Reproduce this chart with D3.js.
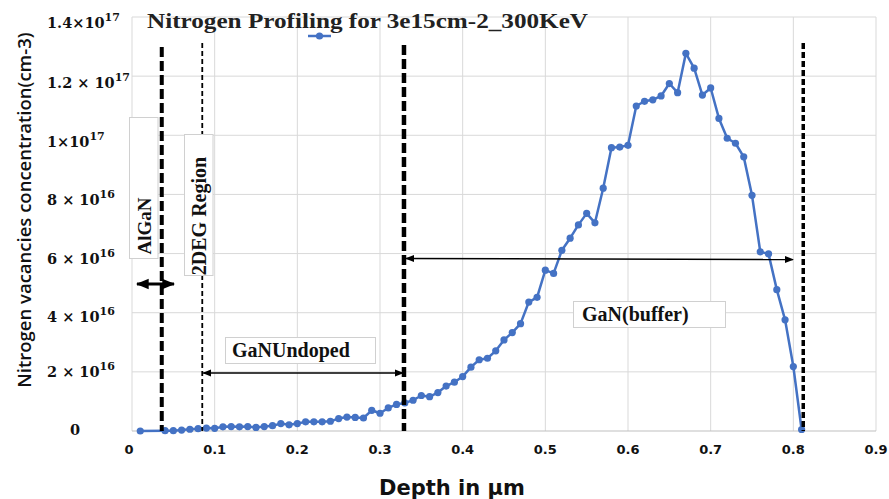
<!DOCTYPE html>
<html>
<head>
<meta charset="utf-8">
<script src="https://cdn.jsdelivr.net/npm/d3@7"></script>
<style>
  html, body { margin: 0; padding: 0; background: #fff; }
  svg { display: block; }
</style>
</head>
<body>
<svg id="chart" width="889" height="499"></svg>
<script>
// ---- data ----
const depth = [0.01, 0.04, 0.05, 0.06, 0.07, 0.08, 0.09, 0.10, 0.11, 0.12, 0.13, 0.14, 0.15, 0.16, 0.17, 0.18, 0.19, 0.20,
  0.21, 0.22, 0.23, 0.24, 0.25, 0.26, 0.27, 0.28, 0.29, 0.30, 0.31, 0.32, 0.33, 0.34, 0.35, 0.36, 0.37, 0.38, 0.39, 0.40,
  0.41, 0.42, 0.43, 0.44, 0.45, 0.46, 0.47, 0.48, 0.49, 0.50, 0.51, 0.52, 0.53, 0.54, 0.55, 0.56, 0.57, 0.58, 0.59, 0.60,
  0.61, 0.62, 0.63, 0.64, 0.65, 0.66, 0.67, 0.68, 0.69, 0.70, 0.71, 0.72, 0.73, 0.74, 0.75, 0.76, 0.77, 0.78, 0.79, 0.80, 0.81];
// concentration in units of 1e16 cm-3
const concE16 = [0.00, 0.01, 0.01, 0.03, 0.06, 0.08, 0.10, 0.09, 0.14, 0.15, 0.14, 0.15, 0.12, 0.15, 0.18, 0.25, 0.21, 0.25,
  0.31, 0.31, 0.31, 0.33, 0.42, 0.47, 0.46, 0.44, 0.70, 0.60, 0.78, 0.90, 0.95, 1.04, 1.20, 1.16, 1.30, 1.52, 1.65, 1.84,
  2.16, 2.41, 2.46, 2.71, 3.08, 3.33, 3.63, 4.36, 4.52, 5.44, 5.33, 6.11, 6.52, 6.97, 7.36, 7.04, 8.21, 9.58, 9.60, 9.66,
  10.99, 11.15, 11.20, 11.33, 11.75, 11.44, 12.77, 12.27, 11.36, 11.60, 10.57, 9.90, 9.73, 9.27, 7.97, 6.06, 5.99, 4.78, 3.76, 2.18, 0.05];
const xTicks = [0, 0.1, 0.2, 0.3, 0.4, 0.5, 0.6, 0.7, 0.8, 0.9];
const xTickLabels = ["0", "0.1", "0.2", "0.3", "0.4", "0.5", "0.6", "0.7", "0.8", "0.9"];
const yTicks = [0, 2e16, 4e16, 6e16, 8e16, 1e17, 1.2e17, 1.4e17];
const yTickMantissa = ["0", "2 \u00d7 10", "4 \u00d7 10", "6 \u00d7 10", "8 \u00d7 10", "1\u00d710", "1.2 \u00d7 10", "1.4\u00d710"];
const yTickExponent = [null, "16", "16", "16", "16", "17", "17", "17"];
const boundaryDepths = [0.036, 0.085, 0.329, 0.812];
const regionLabels = ["AlGaN", "2DEG Region", "GaNUndoped", "GaN(buffer)"];
const chartTitle = "Nitrogen Profiling for 3e15cm-2_300KeV";
const xTitle = "Depth in \u00b5m";
const yTitle = "Nitrogen vacancies concentration(cm-3)";

const series = depth.map((d, i) => ({ x: d, y: concE16[i] * 1e16 }));

// ---- layout ----
const svg = d3.select("#chart");
const x = d3.scaleLinear().domain([0, 0.9]).range([132, 876]);
const y = d3.scaleLinear().domain([0, 1.4e17]).range([431, 17]);
const blue = "#4472C4";
const grid = "#d9d9d9";
const yLabelDrop = [4, 5, 9, 10, 11, 12, 12, 11];

const defs = svg.append("defs");
function marker(id, size) {
  const m = defs.append("marker").attr("id", id).attr("viewBox", "0 0 10 10")
    .attr("refX", 9).attr("refY", 5).attr("markerWidth", size).attr("markerHeight", size)
    .attr("orient", "auto-start-reverse").attr("markerUnits", "userSpaceOnUse");
  m.append("path").attr("d", "M0,1 L10,5 L0,9 Z").attr("fill", "#000");
}
marker("arrS", 9);
marker("arrL", 13);

// gridlines
svg.append("g").selectAll("line").data(xTicks).join("line")
  .attr("x1", d => x(d)).attr("x2", d => x(d)).attr("y1", y(1.4e17)).attr("y2", y(0))
  .attr("stroke", grid).attr("stroke-width", 1);
svg.append("g").selectAll("line").data(yTicks).join("line")
  .attr("x1", x(0)).attr("x2", x(0.9)).attr("y1", d => y(d)).attr("y2", d => y(d))
  .attr("stroke", d => d === 0 ? "#bfbfbf" : grid).attr("stroke-width", 1);

// x tick labels
svg.append("g").selectAll("text").data(xTicks).join("text")
  .attr("x", (d, i) => x(d) - (i === 0 ? 3 : 0)).attr("y", 454)
  .attr("text-anchor", "middle")
  .attr("font-family", "DejaVu Sans").attr("font-weight", "bold").attr("font-size", 13)
  .attr("fill", "#111")
  .text((d, i) => xTickLabels[i]);

// y tick labels
const yl = svg.append("g").selectAll("text").data(yTicks).join("text")
  .attr("x", (d, i) => i === 0 ? 75 : 47)
  .attr("y", (d, i) => y(d) + yLabelDrop[i])
  .attr("text-anchor", (d, i) => i === 0 ? "middle" : "start")
  .attr("font-family", "DejaVu Serif").attr("font-weight", "bold").attr("font-size", 14.5)
  .attr("fill", "#111");
yl.each(function (d, i) {
  const t = d3.select(this);
  if (yTickExponent[i] === null) { t.text(yTickMantissa[i]); return; }
  t.append("tspan").text(yTickMantissa[i]);
  t.append("tspan").attr("dy", -7).attr("font-size", 11).text(yTickExponent[i]);
});

// axis titles
svg.append("text").attr("x", 452).attr("y", 495).attr("text-anchor", "middle")
  .attr("font-family", "DejaVu Sans").attr("font-weight", "bold").attr("font-size", 21)
  .attr("fill", "#111").text(xTitle);
svg.append("text").attr("transform", "translate(31,210) rotate(-90)").attr("text-anchor", "middle")
  .attr("font-family", "Open Sans").attr("font-weight", 600).attr("font-size", 18.5)
  .attr("fill", "#111").text(yTitle);

// series line + markers
svg.append("path").datum(series)
  .attr("d", d3.line().x(d => x(d.x)).y(d => y(d.y)))
  .attr("fill", "none").attr("stroke", blue).attr("stroke-width", 2.5).attr("stroke-linejoin", "round");
svg.append("g").selectAll("circle").data(series).join("circle")
  .attr("cx", d => x(d.x)).attr("cy", d => y(d.y)).attr("r", 3.6).attr("fill", blue);

// boundary dashed lines
const lineStyles = [
  { w: 4, dash: "10,4", top: 47 },
  { w: 1.8, dash: "5,3", top: 43 },
  { w: 4.5, dash: "10,4", top: 45 },
  { w: 3.5, dash: "6,3", top: 43 }
];
svg.append("g").selectAll("line").data(boundaryDepths).join("line")
  .attr("x1", d => x(d)).attr("x2", d => x(d))
  .attr("y1", (d, i) => lineStyles[i].top).attr("y2", y(0))
  .attr("stroke", "#000").attr("stroke-width", (d, i) => lineStyles[i].w)
  .attr("stroke-dasharray", (d, i) => lineStyles[i].dash);

// boxes (drawn on top of lines)
function box(x0, y0, w, h) {
  svg.append("rect").attr("x", x0).attr("y", y0).attr("width", w).attr("height", h)
    .attr("fill", "#fff").attr("stroke", "#d0d0d0").attr("stroke-width", 1);
}
const serif = "Liberation Serif";
box(129.5, 117.5, 28.5, 141);
svg.append("text").attr("transform", "translate(151,226) rotate(-90)").attr("text-anchor", "middle")
  .attr("font-family", serif).attr("font-weight", "bold").attr("font-size", 19).attr("fill", "#111")
  .text(regionLabels[0]);
box(184.5, 134.5, 28.5, 141);
svg.append("text").attr("transform", "translate(206,216) rotate(-90)").attr("text-anchor", "middle")
  .attr("font-family", serif).attr("font-weight", "bold").attr("font-size", 20).attr("fill", "#111")
  .text(regionLabels[1]);
box(225.5, 337.5, 150, 26);
svg.append("text").attr("x", 232).attr("y", 357)
  .attr("font-family", serif).attr("font-weight", "bold").attr("font-size", 20).attr("fill", "#111")
  .text(regionLabels[2]);
box(573.5, 301.5, 152, 26);
svg.append("text").attr("x", 582).attr("y", 321)
  .attr("font-family", serif).attr("font-weight", "bold").attr("font-size", 20).attr("fill", "#111")
  .text(regionLabels[3]);

// arrows
svg.append("line").attr("x1", 137).attr("x2", 174).attr("y1", 284).attr("y2", 284)
  .attr("stroke", "#000").attr("stroke-width", 3)
  .attr("marker-start", "url(#arrL)").attr("marker-end", "url(#arrL)");
svg.append("line").attr("x1", x(boundaryDepths[1]) + 1).attr("x2", x(boundaryDepths[2]) - 1).attr("y1", 373).attr("y2", 373)
  .attr("stroke", "#000").attr("stroke-width", 1.5)
  .attr("marker-start", "url(#arrS)").attr("marker-end", "url(#arrS)");
svg.append("line").attr("x1", x(boundaryDepths[2]) + 2).attr("x2", 793).attr("y1", 258.5).attr("y2", 259.5)
  .attr("stroke", "#000").attr("stroke-width", 1.5)
  .attr("marker-start", "url(#arrS)").attr("marker-end", "url(#arrS)");

// title
svg.append("text").attr("x", 147).attr("y", 28)
  .attr("font-family", serif).attr("font-weight", "bold").attr("font-size", 20).attr("fill", "#222")
  .attr("textLength", 441).attr("lengthAdjust", "spacingAndGlyphs")
  .text(chartTitle);

// legend
const lg = svg.append("g");
lg.append("line").attr("x1", 308).attr("x2", 331).attr("y1", 36).attr("y2", 36)
  .attr("stroke", blue).attr("stroke-width", 2.5);
lg.append("circle").attr("cx", 319.5).attr("cy", 36).attr("r", 3.6).attr("fill", blue);
</script>
</body>
</html>
